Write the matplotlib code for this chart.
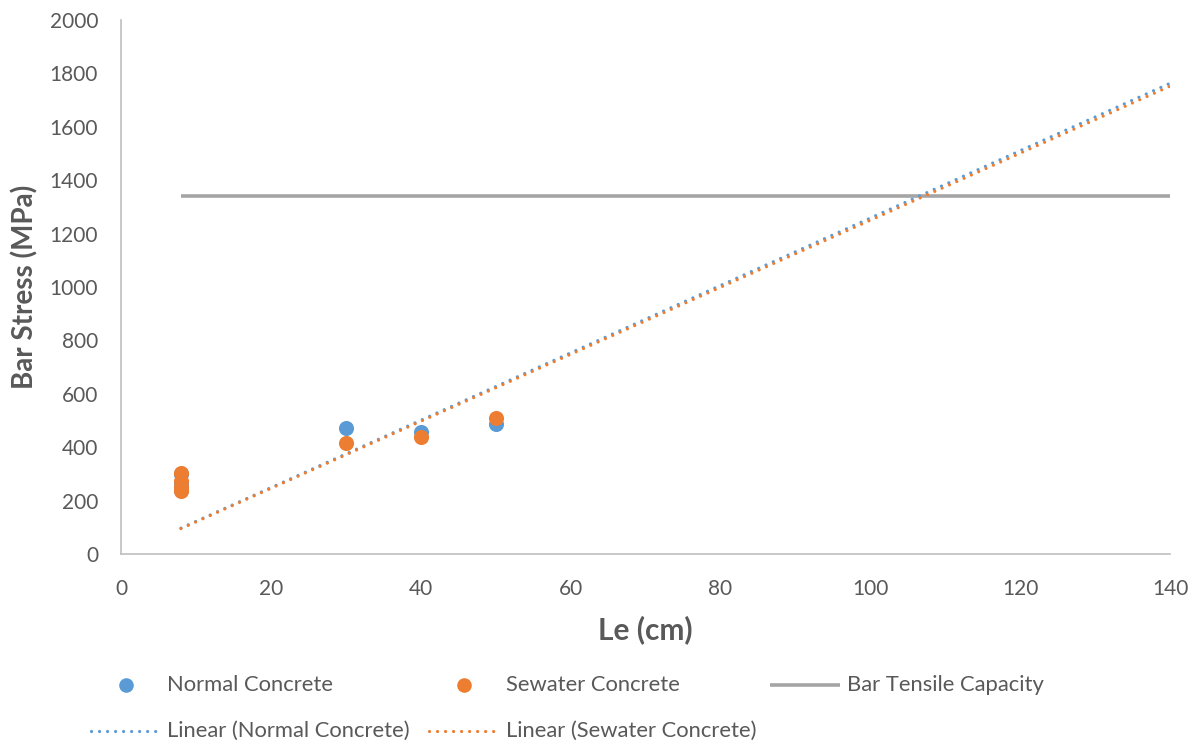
import matplotlib
matplotlib.use("Agg")
import matplotlib.pyplot as plt
from matplotlib.lines import Line2D

# Measured bar stresses (MPa) at each embedment length Le (cm)
normal_le = [8, 8, 8, 30, 40, 50]
normal_stress = [300, 265, 240, 472, 457, 487]
sewater_le = [8, 8, 8, 8, 30, 40, 50]
sewater_stress = [305, 275, 250, 235, 416, 440, 509]

# Linear trendlines (end points)
trend_le = [8, 140]
normal_trend = [97, 1763]
sewater_trend = [95, 1752]

# Tensile capacity of the bar
capacity_le = [8, 140]
capacity_stress = [1340, 1340]

x_ticks = [0, 20, 40, 60, 80, 100, 120, 140]
y_ticks = list(range(0, 2001, 200))

BLUE = "#5b9bd5"
ORANGE = "#ed7d31"
GRAY = "#a5a5a5"
TEXT = "#595959"
AXIS = "#bfbfbf"
FONT = "Lato"

plt.rcParams["font.family"] = [FONT, "DejaVu Sans"]

W, H = 1201, 744
fig = plt.figure(figsize=(W / 100, H / 100), dpi=100)
ax = fig.add_axes([121 / W, 1 - 554 / H, (1170 - 121) / W, (554 - 20) / H])

dot_style = dict(linestyle=(0, (0.01, 2.5)), dash_capstyle="round", lw=2.3)

ax.plot(capacity_le, capacity_stress, color=GRAY, lw=2.6, solid_capstyle="butt", zorder=2)
ax.plot(trend_le, normal_trend, color=BLUE, zorder=3, **dot_style)
ax.plot(trend_le, sewater_trend, color=ORANGE, zorder=3, **dot_style)
ax.scatter(normal_le, normal_stress, s=118, color=BLUE, linewidths=0, zorder=4)
ax.scatter(sewater_le, sewater_stress, s=118, color=ORANGE, linewidths=0, zorder=5)

ax.set_xlim(0, 140)
ax.set_ylim(0, 2000)
ax.set_xticks(x_ticks)
ax.set_yticks(y_ticks)
ax.tick_params(length=0, labelsize=15, colors=TEXT)
ax.tick_params(axis="y", pad=16.5)
ax.tick_params(axis="x", pad=18)
for side in ("top", "right"):
    ax.spines[side].set_visible(False)
for side in ("left", "bottom"):
    ax.spines[side].set_color(AXIS)
    ax.spines[side].set_linewidth(1.2)

ax.set_xlabel("Le (cm)", fontsize=21.5, fontweight="bold", color=TEXT, labelpad=12)
ax.set_ylabel("Bar Stress (MPa)", fontsize=20, fontweight="bold", color=TEXT)
ax.yaxis.set_label_coords(-96 / 1049, 0.5)
ax.yaxis.label.set_va("center")

# Legend laid out in two rows below the plot
lg = fig.add_axes([0, 0, 1, 1], facecolor="none")
lg.set_xlim(0, W)
lg.set_ylim(H, 0)
lg.axis("off")
fs = 15.8
lg.add_line(Line2D([126], [685], marker="o", ms=10.5, color=BLUE, mew=0))
lg.text(167, 685, "Normal Concrete", fontsize=fs, color=TEXT, va="center")
lg.add_line(Line2D([464], [685], marker="o", ms=10.5, color=ORANGE, mew=0))
lg.text(506, 685, "Sewater Concrete", fontsize=fs, color=TEXT, va="center")
lg.add_line(Line2D([770, 840], [685, 685], color=GRAY, lw=2.6, solid_capstyle="butt"))
lg.text(847, 685, "Bar Tensile Capacity", fontsize=fs, color=TEXT, va="center")
lg.add_line(Line2D([91, 160], [731, 731], color=BLUE, **dot_style))
lg.text(167, 731, "Linear (Normal Concrete)", fontsize=fs, color=TEXT, va="center")
lg.add_line(Line2D([429, 498], [731, 731], color=ORANGE, **dot_style))
lg.text(506, 731, "Linear (Sewater Concrete)", fontsize=fs, color=TEXT, va="center")

fig.savefig("out.png", dpi=100)
